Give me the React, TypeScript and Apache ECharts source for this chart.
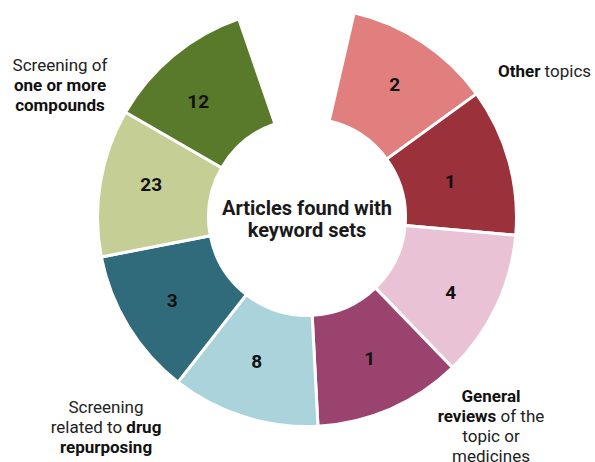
import React, { useEffect, useRef } from "react";
import * as echarts from "echarts";

const categories = [
  "Other topics A",
  "Other topics B",
  "General reviews A",
  "General reviews B",
  "Drug repurposing A",
  "Drug repurposing B",
  "Compounds A",
  "Compounds B",
];
const counts = [2, 1, 4, 1, 8, 3, 23, 12];
const colors = [
  "#E07F7E",
  "#9B313B",
  "#EAC2D5",
  "#9B436F",
  "#AAD3DC",
  "#306B7B",
  "#C5CF95",
  "#5A7A2B",
];
const centerTitle = "Articles found with\nkeyword sets";

const FONT = "Roboto, 'Noto Sans', sans-serif";

// small per-slice label nudges (styling only)
const labelNudges = [
  [1, -2],
  [-8, 6],
  [2, 8],
  [0, -2],
  [-3, -5],
  [-1, 1],
  [-1, -7],
  [-9, 6],
];

export default function App() {
  const ref = useRef<HTMLDivElement>(null);
  useEffect(() => {
    if (!ref.current) return;
    const chart = echarts.init(ref.current, undefined, { renderer: "svg" });
    const rich = {
      n: { fontSize: 17, fontFamily: FONT, fontWeight: "normal", fill: "#222", lineHeight: 20 },
      b: { fontSize: 17, fontFamily: FONT, fontWeight: "bold", fill: "#111", lineHeight: 20 },
    };
    const txt = (text: string, x: number, y: number, align: string) => ({
      type: "text",
      x,
      y,
      style: {
        text,
        align,
        verticalAlign: "middle",
        fontSize: 17,
        fontFamily: FONT,
        lineHeight: 20,
        fill: "#222",
        rich,
      },
    });
    chart.setOption({
      animation: false,
      series: [
        {
          type: "pie",
          center: [307, 217],
          radius: [98.5, 209.5],
          startAngle: 77,
          endAngle: 77 - 328,
          clockwise: true,
          silent: true,
          itemStyle: { borderColor: "#fff", borderWidth: 3 },
          label: {
            show: true,
            position: "inside",
            fontFamily: FONT,
            fontWeight: "bold",
            fontSize: 19,
            color: "#111",
            formatter: (p: any) => String(counts[p.dataIndex]),
          },
          labelLine: { show: false },
          data: categories.map((c, i) => ({
            name: c,
            value: 1,
            itemStyle: { color: colors[i] },
            label: { offset: labelNudges[i] },
          })),
        },
      ],
      graphic: [
        {
          type: "text",
          x: 307,
          y: 219,
          style: {
            text: centerTitle,
            align: "center",
            verticalAlign: "middle",
            fontSize: 20,
            fontWeight: "bold",
            fontFamily: FONT,
            lineHeight: 22,
            fill: "#1a1a1a",
          },
        },
        txt("{b|Other}{n| topics}", 498, 71, "left"),
        txt("{n|Screening of}\n{b|one or more}\n{b|compounds}", 60, 85, "center"),
        txt("{n|Screening}\n{n|related to }{b|drug}\n{b|repurposing}", 106, 427, "center"),
        txt("{b|General}\n{b|reviews}{n| of the}\n{n|topic or}\n{n|medicines}", 491, 426, "center"),
      ],
    });
    return () => chart.dispose();
  }, []);
  return (
    <div
      ref={ref}
      style={{ position: "fixed", left: 0, top: 0, width: 595, height: 462, background: "#fff" }}
    />
  );
}
